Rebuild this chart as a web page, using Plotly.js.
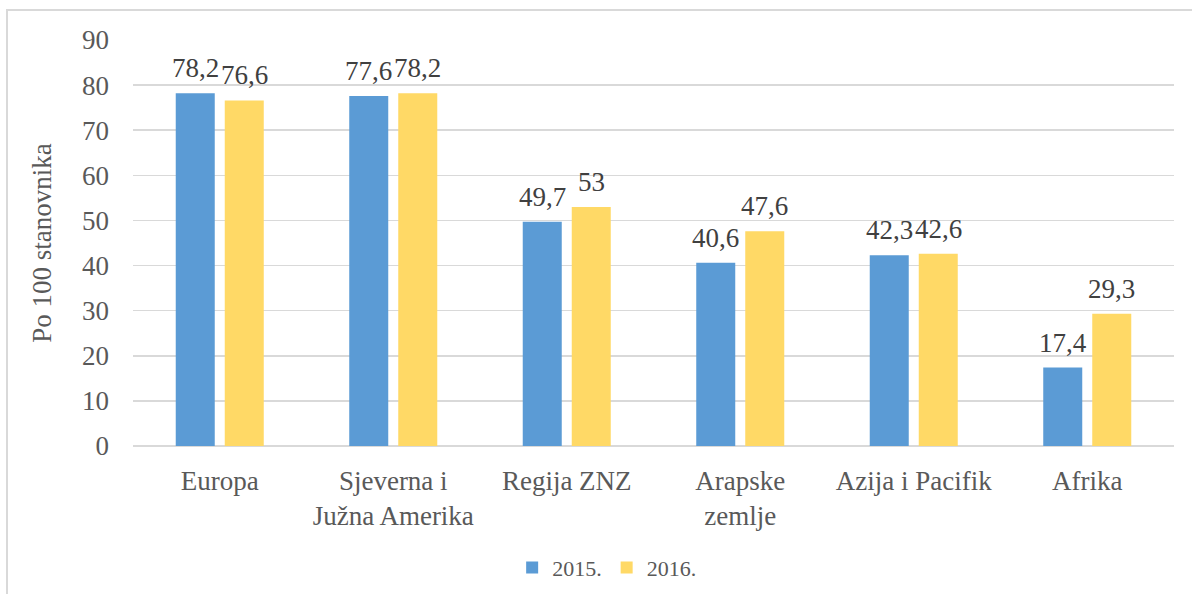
<!DOCTYPE html>
<html>
<head>
<meta charset="utf-8">
<script src="https://cdn.plot.ly/plotly-3.0.1.min.js"></script>
<style>
html,body{margin:0;padding:0;background:#fff;}
#chart{width:1192px;height:594px;position:relative;}
#frame{position:absolute;left:6px;top:9px;width:1300px;height:700px;border:2px solid #d9d9d9;pointer-events:none;}
</style>
</head>
<body>
<div style="position:relative;width:1192px;height:594px;overflow:hidden;">
<div id="chart"></div>
<div id="frame"></div>
</div>
<script>
const categories = ["Europa", "Sjeverna i<br>Južna Amerika", "Regija ZNZ", "Arapske<br>zemlje", "Azija i Pacifik", "Afrika"];
const values2015 = [78.2, 77.6, 49.7, 40.6, 42.3, 17.4];
const values2016 = [76.6, 78.2, 53, 47.6, 42.6, 29.3];
const yTicks = [0, 10, 20, 30, 40, 50, 60, 70, 80, 90];

const fmt = v => String(v).replace('.', ',');
const FAM = '"Liberation Serif", "Times New Roman", serif';
const FS = 27;

const traces = [
  {type: 'bar', name: '2015.', x: categories, y: values2015, marker: {color: '#5B9BD5'}, hoverinfo: 'none'},
  {type: 'bar', name: '2016.', x: categories, y: values2016, marker: {color: '#FFD966'}, hoverinfo: 'none'}
];

const annotations = [];
[[values2015, -24.5], [values2016, 24.5]].forEach(([vals, dx]) => {
  vals.forEach((v, i) => {
    annotations.push({x: categories[i], y: v, xref: 'x', yref: 'y', text: fmt(v), showarrow: false,
      xanchor: 'center', yanchor: 'bottom', xshift: dx, yshift: 8,
      font: {family: FAM, size: FS, color: '#404040'}});
  });
});

const layout = {
  width: 1192, height: 594,
  margin: {l: 133, r: 18, t: 40, b: 148, autoexpand: false},
  paper_bgcolor: '#fff', plot_bgcolor: '#fff',
  font: {family: FAM, color: '#595959', size: FS},
  barmode: 'group', bargap: 0.435, bargroupgap: 0.204,
  showlegend: true,
  annotations: annotations,
  legend: {orientation: 'h', x: 0.455, xanchor: 'center', y: -0.3, yanchor: 'middle',
           font: {family: FAM, size: 22, color: '#595959'}, traceorder: 'normal'},
  xaxis: {type: 'category', automargin: false, tickfont: {family: FAM, size: FS, color: '#595959'}, showline: false, showgrid: false,
          ticks: '', ticklabelstandoff: 16},
  yaxis: {range: [0, 90], automargin: false, tickvals: yTicks, ticktext: yTicks.map(String),
          tickfont: {family: FAM, size: FS, color: '#595959'}, gridcolor: '#d9d9d9', gridwidth: 1.5,
          zeroline: true, zerolinecolor: '#d9d9d9', zerolinewidth: 2, showline: false,
          ticks: '', ticklabelstandoff: 23,
          title: {text: 'Po 100 stanovnika', font: {family: FAM, size: FS, color: '#595959'}, standoff: 22}}
};

Plotly.newPlot('chart', traces, layout, {displayModeBar: false, staticPlot: true});
</script>
</body>
</html>
